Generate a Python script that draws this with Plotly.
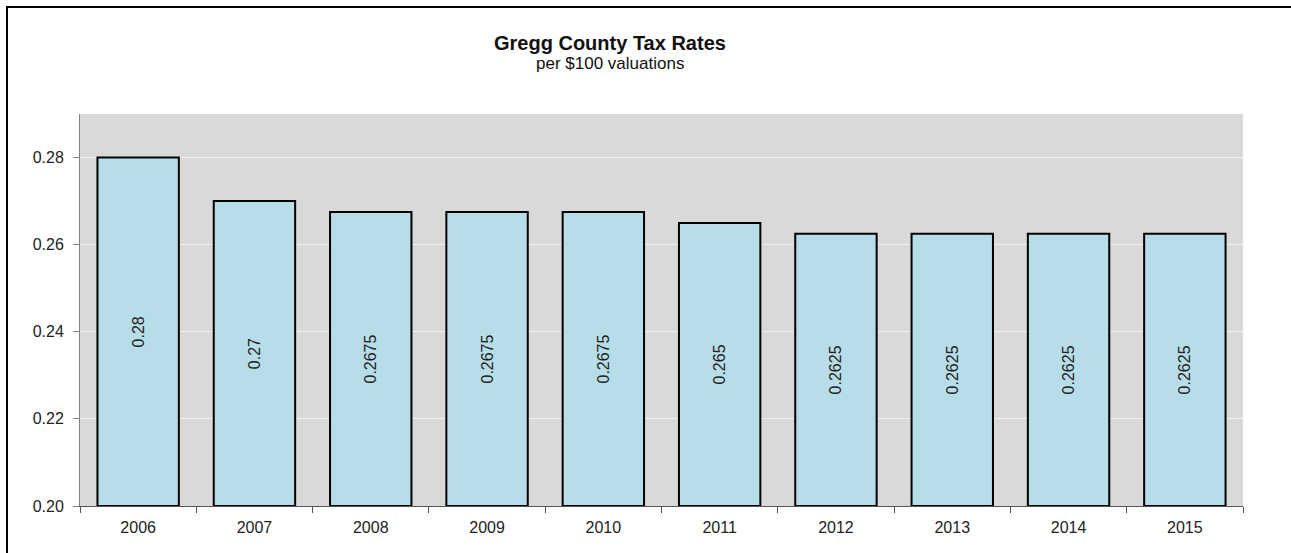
import plotly.graph_objects as go

years = ["2006", "2007", "2008", "2009", "2010", "2011", "2012", "2013", "2014", "2015"]
rates = [0.28, 0.27, 0.2675, 0.2675, 0.2675, 0.265, 0.2625, 0.2625, 0.2625, 0.2625]
labels = ["0.28", "0.27", "0.2675", "0.2675", "0.2675", "0.265", "0.2625", "0.2625", "0.2625", "0.2625"]
y_ticks = [0.20, 0.22, 0.24, 0.26, 0.28]
y_ticktext = ["0.20", "0.22", "0.24", "0.26", "0.28"]
axis_floor = 0.20

W, H = 1291, 553
L, R, T, B = 80, 48, 114, 47
pw, ph = W - L - R, H - T - B

def px(x):
    return (x - L) / pw

def py(y):
    return (H - B - y) / ph

FONT = "Liberation Sans, Arial"

fig = go.Figure()
fig.add_trace(go.Bar(
    x=years, y=[r - axis_floor for r in rates], base=axis_floor,
    marker=dict(color="#b7dde8", line=dict(color="#000000", width=2)),
    text=labels, textposition="inside", textangle=-90,
    insidetextanchor="middle",
    textfont=dict(family=FONT, size=16, color="#222222"),
    width=0.7,
    customdata=rates,
    hovertemplate="%{x}: %{customdata}<extra></extra>",
))

fig.update_layout(
    width=W, height=H,
    margin=dict(l=L, r=R, t=T, b=B),
    paper_bgcolor="white",
    plot_bgcolor="#d9d9d9",
    showlegend=False,
    uniformtext=dict(minsize=16, mode="show"),
    font=dict(family=FONT, size=16, color="#222222"),
    xaxis=dict(
        type="category", tickson="boundaries", ticks="outside", ticklen=6,
        tickcolor="#555555", showline=True, linecolor="#555555", linewidth=1,
        showgrid=False, tickfont=dict(family=FONT, size=16, color="#222222"),
        ticklabelstandoff=7,
    ),
    yaxis=dict(
        range=[0.20, 0.29], tickvals=y_ticks, ticktext=y_ticktext,
        ticks="outside", ticklen=6, tickcolor="#808080",
        showline=True, linecolor="#808080", linewidth=1,
        showgrid=True, gridcolor="#f2f2f2", gridwidth=1,
        zeroline=False, tickfont=dict(family=FONT, size=16, color="#222222"),
        ticklabelstandoff=6,
    ),
    shapes=[dict(
        type="rect", xref="paper", yref="paper",
        x0=px(7), y0=py(600), x1=px(1340), y1=py(7),
        line=dict(color="#000000", width=2), fillcolor="rgba(0,0,0,0)",
        layer="above",
    )],
    annotations=[
        dict(text="<b>Gregg County Tax Rates</b>", xref="paper", yref="paper",
             x=px(610), y=py(43), showarrow=False, xanchor="center", yanchor="middle",
             font=dict(family=FONT, size=20, color="#111111")),
        dict(text="per $100 valuations", xref="paper", yref="paper",
             x=px(610), y=py(64), showarrow=False, xanchor="center", yanchor="middle",
             font=dict(family=FONT, size=17, color="#111111")),
    ],
)

fig.write_html("out.html")
